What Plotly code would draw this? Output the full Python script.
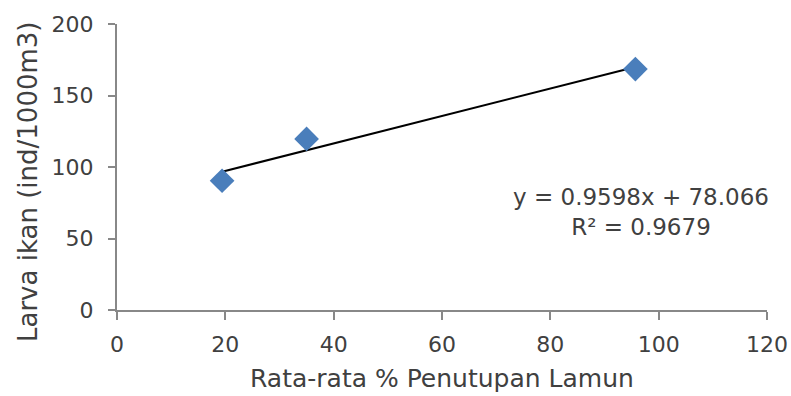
import numpy as np
import plotly.graph_objects as go

# Data
cover_pct = [19.4, 35.0, 95.7]
larva = [90.4, 119.6, 168.5]
slope = 0.9598
intercept = 78.066
r2_text = "0.9679"

x_ticks = [0, 20, 40, 60, 80, 100, 120]
y_ticks = [0, 50, 100, 150, 200]

x_title = "Rata-rata % Penutupan Lamun"
y_title = "Larva ikan (ind/1000m3)"

FONT = "Century Gothic, DejaVu Sans, sans-serif"
TXT = "#404040"
AX = "#888888"

W, H = 791, 396
l, r, t, b = 117, 24, 24, 86
pw, ph = W - l - r, H - t - b

fig = go.Figure()

x_fit = np.array([min(cover_pct), max(cover_pct)])
y_fit = slope * x_fit + intercept
fig.add_trace(go.Scatter(x=x_fit, y=y_fit, mode="lines",
                         line=dict(color="black", width=2), showlegend=False,
                         hoverinfo="skip"))
fig.add_trace(go.Scatter(x=cover_pct, y=larva, mode="markers",
                         marker=dict(symbol="diamond", size=19, color="#4A7EBB"),
                         showlegend=False))

fig.add_annotation(x=96.7, y=68.5, xref="x", yref="y", yanchor="middle",
                   text=f"y = {slope}x + {intercept}<br>R² = {r2_text}",
                   showarrow=False, align="center",
                   font=dict(family=FONT, size=23, color=TXT))

# axis titles (positioned in paper coords from pixel targets)
fig.add_annotation(x=0.5, y=(H - b - 395) / ph, xref="paper", yref="paper",
                   yanchor="bottom", text=x_title, showarrow=False,
                   font=dict(family=FONT, size=25, color=TXT))
fig.add_annotation(x=(28 - l) / pw, y=(H - b - 182) / ph, xref="paper", yref="paper",
                   xanchor="center", yanchor="middle", text=y_title,
                   showarrow=False, textangle=-90,
                   font=dict(family=FONT, size=26, color=TXT))

fig.update_xaxes(range=[0, 120], tickvals=x_ticks, ticks="outside", ticklen=8,
                 tickcolor=AX, tickwidth=2, showline=True, linecolor=AX, linewidth=2,
                 showgrid=False, zeroline=False, automargin=False, ticklabelstandoff=6,
                 tickfont=dict(family=FONT, size=22, color=TXT))
fig.update_yaxes(range=[0, 200], tickvals=y_ticks, ticks="outside", ticklen=7,
                 tickcolor=AX, tickwidth=2, showline=True, linecolor=AX, linewidth=2,
                 showgrid=False, zeroline=False, automargin=False, ticklabelstandoff=10,
                 tickfont=dict(family=FONT, size=22, color=TXT))

fig.update_layout(width=W, height=H, margin=dict(l=l, r=r, t=t, b=b),
                  paper_bgcolor="white", plot_bgcolor="white")

fig.write_html("out.html", config={"displayModeBar": False},
               post_script="document.body.style.margin='0';document.body.style.overflow='hidden';")
